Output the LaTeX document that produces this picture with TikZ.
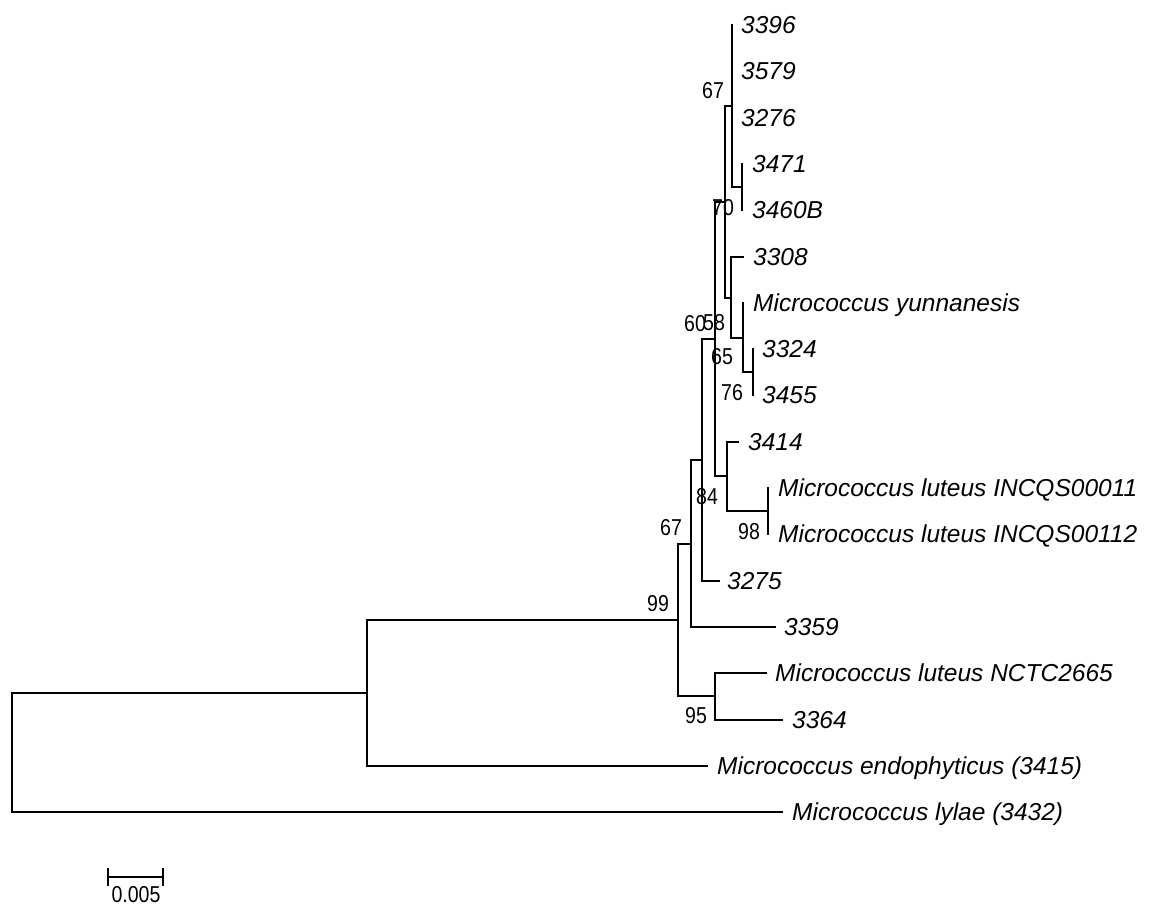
\documentclass[tikz,border=0pt]{standalone}
\usepackage{fontspec}
\usepackage{graphicx}
\setmainfont{Liberation Sans}
\begin{document}
\begin{tikzpicture}[x=1pt,y=-1pt]
\tikzset{
  br/.style={draw=black, line width=2pt, line cap=rect},
  taxon/.style={anchor=base west, inner sep=0pt, font=\fontsize{24.5}{24.5}\selectfont\itshape},
  boot/.style={anchor=base, inner sep=0pt, font=\fontsize{23}{23}\selectfont},
}
\useasboundingbox (0,0) rectangle (1151,906);
% internal nodes
\coordinate (root) at (12,752);
\coordinate (n1) at (367,693);
\coordinate (n99) at (678,620);
\coordinate (n95) at (715,696);
\coordinate (n67b) at (691,544);
\coordinate (n702) at (702,460);
\coordinate (n715) at (715,339);
\coordinate (n727) at (727,476);
\coordinate (n98) at (768,511);
\coordinate (n726) at (725,202);
\coordinate (n67t) at (732,106);
\coordinate (n742) at (742,187);
\coordinate (n58) at (731,298);
\coordinate (n65) at (743,338);
\coordinate (n76) at (753,372);
% tips
\coordinate (t3396) at (732,25);
\coordinate (t3579) at (732,71);
\coordinate (t3276) at (732,118);
\coordinate (t3471) at (742,164);
\coordinate (t3460) at (742,210);
\coordinate (t3308) at (743,257);
\coordinate (tyun) at (743,303);
\coordinate (t3324) at (753,349);
\coordinate (t3455) at (753,395);
\coordinate (t3414) at (738,442);
\coordinate (tI11) at (768,488);
\coordinate (tI12) at (768,534);
\coordinate (t3275) at (719,581);
\coordinate (t3359) at (775,627);
\coordinate (tNCTC) at (766,673);
\coordinate (t3364) at (782,720);
\coordinate (tendo) at (707,766);
\coordinate (tlylae) at (782,812);
% branches
\draw[br] (root) |- (n1);
\draw[br] (root) |- (tlylae);
\draw[br] (n1) |- (n99);
\draw[br] (n1) |- (tendo);
\draw[br] (n99) |- (n67b);
\draw[br] (n99) |- (n95);
\draw[br] (n95) |- (tNCTC);
\draw[br] (n95) |- (t3364);
\draw[br] (n67b) |- (n702);
\draw[br] (n67b) |- (t3359);
\draw[br] (n702) |- (n715);
\draw[br] (n702) |- (t3275);
\draw[br] (n715) |- (n726);
\draw[br] (n715) |- (n727);
\draw[br] (n727) |- (t3414);
\draw[br] (n727) |- (n98);
\draw[br] (n98) |- (tI11);
\draw[br] (n98) |- (tI12);
\draw[br] (n726) |- (n67t);
\draw[br] (n726) |- (n58);
\draw[br] (n67t) |- (t3396);
\draw[br] (n67t) |- (t3579);
\draw[br] (n67t) |- (t3276);
\draw[br] (n67t) |- (n742);
\draw[br] (n742) |- (t3471);
\draw[br] (n742) |- (t3460);
\draw[br] (n58) |- (t3308);
\draw[br] (n58) |- (n65);
\draw[br] (n65) |- (tyun);
\draw[br] (n65) |- (n76);
\draw[br] (n76) |- (t3324);
\draw[br] (n76) |- (t3455);
% taxon labels
\node[taxon] (l3396) at ([xshift=9pt,yshift=-8.5pt]t3396) {3396};
\node[taxon] (l3579) at ([xshift=9pt,yshift=-8.5pt]t3579) {3579};
\node[taxon] (l3276) at ([xshift=9pt,yshift=-8.5pt]t3276) {3276};
\node[taxon] (l3471) at ([xshift=10pt,yshift=-8.5pt]t3471) {3471};
\node[taxon] (l3460) at ([xshift=10pt,yshift=-8.5pt]t3460) {3460B};
\node[taxon] (l3308) at ([xshift=10pt,yshift=-8.5pt]t3308) {3308};
\node[taxon] (lyun) at ([xshift=10pt,yshift=-8.5pt]tyun) {Micrococcus yunnanesis};
\node[taxon] (l3324) at ([xshift=9pt,yshift=-8.5pt]t3324) {3324};
\node[taxon] (l3455) at ([xshift=9pt,yshift=-8.5pt]t3455) {3455};
\node[taxon] (l3414) at ([xshift=10pt,yshift=-8.5pt]t3414) {3414};
\node[taxon] (lI11) at ([xshift=10pt,yshift=-8.5pt]tI11) {Micrococcus luteus INCQS00011};
\node[taxon] (lI12) at ([xshift=10pt,yshift=-8.5pt]tI12) {Micrococcus luteus INCQS00112};
\node[taxon] (l3275) at ([xshift=8pt,yshift=-8.5pt]t3275) {3275};
\node[taxon] (l3359) at ([xshift=9pt,yshift=-8.5pt]t3359) {3359};
\node[taxon] (lNCTC) at ([xshift=9pt,yshift=-8.5pt]tNCTC) {Micrococcus luteus NCTC2665};
\node[taxon] (l3364) at ([xshift=10pt,yshift=-8.5pt]t3364) {3364};
\node[taxon] (lendo) at ([xshift=10pt,yshift=-8.5pt]tendo) {Micrococcus endophyticus (3415)};
\node[taxon] (llylae) at ([xshift=10pt,yshift=-8.5pt]tlylae) {Micrococcus lylae (3432)};
% bootstrap values
\node[boot] (b67t) at (713,98) {\scalebox{0.85}[1]{67}};
\node[boot] (b70) at (723,215) {\scalebox{0.85}[1]{70}};
\node[boot] (b60) at (695,331) {\scalebox{0.85}[1]{60}};
\node[boot] (b58) at (714,330) {\scalebox{0.85}[1]{58}};
\node[boot] (b65) at (722,364) {\scalebox{0.85}[1]{65}};
\node[boot] (b76) at (732,400) {\scalebox{0.85}[1]{76}};
\node[boot] (b84) at (707,504) {\scalebox{0.85}[1]{84}};
\node[boot] (b98) at (749,539) {\scalebox{0.85}[1]{98}};
\node[boot] (b67b) at (671,535) {\scalebox{0.85}[1]{67}};
\node[boot] (b99) at (658,611) {\scalebox{0.85}[1]{99}};
\node[boot] (b95) at (696,723) {\scalebox{0.85}[1]{95}};
% scale bar
\coordinate (sbL) at (108,877);
\coordinate (sbR) at (163,877);
\draw[br] (sbL) -- (sbR);
\draw[br] ([yshift=8pt]sbL) -- ([yshift=-8pt]sbL);
\draw[br] ([yshift=8pt]sbR) -- ([yshift=-8pt]sbR);
\node[boot] (sblab) at (136,902) {\scalebox{0.85}[1]{0.005}};
\end{tikzpicture}
\end{document}
